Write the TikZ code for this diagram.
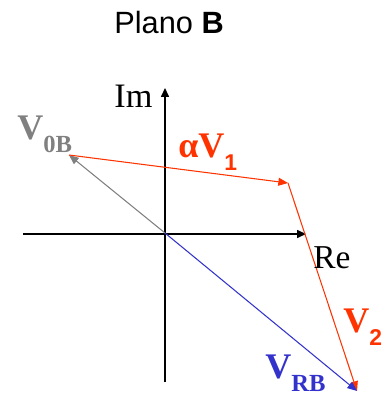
\documentclass[tikz,border=0pt]{standalone}
\usepackage{fontspec}
\setmainfont{Liberation Serif}
\newfontfamily\arial{Liberation Sans}
\usepackage{tikz}
\usetikzlibrary{arrows.meta,positioning,calc}
\definecolor{phred}{HTML}{FF3300}
\definecolor{phgray}{HTML}{808080}
\definecolor{phblue}{HTML}{3333CC}

\begin{document}
\begin{tikzpicture}[x=0.02cm, y=-0.02cm, axis/.style={-{Triangle[length=5pt,width=4.5pt]}, line width=0.7pt}, vec/.style={-{Triangle[length=5.5pt,width=4.5pt]}, line width=0.6pt}, lbl/.style={anchor=base west, inner sep=0pt, font=\fontsize{20.5}{22}\selectfont\bfseries}]
\useasboundingbox (0,0) rectangle (382,396);
% axes
\coordinate (O) at (165,233);
\coordinate (xneg) at (23,234);
\coordinate (xpos) at (306,234);
\coordinate (yneg) at (165,382);
\coordinate (ypos) at (165,88);
\draw[line width=0.7pt] (O) -- (yneg);
\draw[axis] (yneg) -- (ypos);
\draw[axis] (xneg) -- (xpos);
% phasors
\coordinate (V0B) at (69,155);
\coordinate (V1) at (288,183);
\coordinate (VRB) at (357,391);
\draw[vec, phgray] (O) -- (V0B);
\draw[vec, phred] (V0B) -- (V1);
\draw[vec, phred] (V1) -- (VRB);
\draw[vec, phblue] (O) -- (VRB);
% texts
\node[anchor=base west, inner sep=0pt, font=\arial\fontsize{17.5}{19}\selectfont] (title) at (114,33) {Plano \textbf{B}};
\node[anchor=base west, inner sep=0pt, font=\fontsize{19.5}{21}\selectfont] (im) at (114,107) {Im};
\node[anchor=base west, inner sep=0pt, font=\fontsize{19}{21}\selectfont] (re) at (313,268) {Re};
\node[lbl, phgray] (l0b) at (17,139) {V\raisebox{-0.8ex}{\fontsize{14}{15}\selectfont 0B}};
\node[lbl, phred] (l1) at (178,157) {αV\raisebox{-0.8ex}{\arial\fontsize{13}{14}\selectfont 1}};
\node[lbl, phred] (l2) at (343,332) {V\raisebox{-0.8ex}{\arial\fontsize{13}{14}\selectfont 2}};
\node[lbl, phblue] (lrb) at (265,378) {V\raisebox{-0.8ex}{\fontsize{14}{15}\selectfont RB}};
\end{tikzpicture}
\end{document}
